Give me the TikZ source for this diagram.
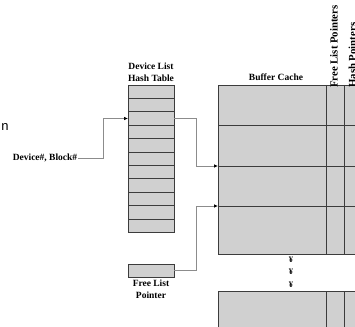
\documentclass[tikz,border=0pt]{standalone}
\usepackage{fontspec}
\setmainfont{Liberation Serif}
\newfontfamily\strayfont{Liberation Sans}
\usepackage{tikz}
\usetikzlibrary{arrows.meta, positioning}

\definecolor{cellfill}{HTML}{D0D0D0}
\definecolor{celledge}{HTML}{3C3C3C}
\definecolor{linkgray}{HTML}{8C8C8C}

\begin{document}
\begin{tikzpicture}[
  x=1pt, y=1pt,
  node distance=0pt,
  every node/.style={font=\bfseries\fontsize{9.5}{12}\selectfont},
  lbl/.style={align=center, inner sep=1pt},
  collbl/.style={lbl, rotate=90, anchor=west, font=\bfseries\fontsize{10.8}{12}\selectfont},
  cell/.style={draw=celledge, fill=cellfill, line width=0.9pt, inner sep=0pt, outer sep=0pt},
  hrow/.style={cell, minimum width=46pt, minimum height=13.4pt},
  brow/.style={cell, minimum width=144pt, anchor=north west},
  conn/.style={draw=linkgray, line width=0.7pt, -{Latex[length=4pt, width=3.5pt, black]}}
]
\useasboundingbox (0,0) rectangle (355,-326);
\clip (0,0) rectangle (355,-326);

% Device list hash table
\node[hrow] (h1) at (151,-91.7) {};
\node[hrow, below=of h1] (h2) {};
\node[hrow, below=of h2] (h3) {};
\node[hrow, below=of h3] (h4) {};
\node[hrow, below=of h4] (h5) {};
\node[hrow, below=of h5] (h6) {};
\node[hrow, below=of h6] (h7) {};
\node[hrow, below=of h7] (h8) {};
\node[hrow, below=of h8] (h9) {};
\node[hrow, below=of h9] (h10) {};
\node[hrow, below=of h10] (h11) {};
\node[lbl, above=2pt of h1] (hashlbl) {Device List\\Hash Table};

% Free list pointer
\node[hrow, minimum height=13pt] (flp) at (151,-270.5) {};
\node[lbl, below=2pt of flp] (flplbl) {Free List\\Pointer};

% Input
\node[lbl] (devblk) at (45,-158) {Device\#, Block\#};
\node[lbl, font=\strayfont\fontsize{13}{13}\selectfont] (stray) at (5,-127) {n};

% Buffer cache rows
\node[brow, minimum height=40pt] (buf1) at (218,-85) {};
\node[brow, minimum height=41pt, below=of buf1] (buf2) {};
\node[brow, minimum height=40pt, below=of buf2] (buf3) {};
\node[brow, minimum height=48pt, below=of buf3] (buf4) {};
\node[brow, minimum height=40pt] (buf5) at (218,-291) {};
\node[lbl] (buflbl) at (276,-77) {Buffer Cache};
\node[collbl] (fpLbl) at (334,-89) {Free List Pointers};
\node[collbl] (hpLbl) at (352.5,-89) {Hash Pointers};
\node[lbl, font=\bfseries\fontsize{8.5}{12.5}\selectfont] (gap) at (291,-272) {¥\\¥\\¥};

% Pointer columns
\draw[celledge, line width=0.9pt] ([xshift=108pt]buf1.north west) -- ([xshift=108pt]buf4.south west);
\draw[celledge, line width=0.9pt] ([xshift=126pt]buf1.north west) -- ([xshift=126pt]buf4.south west);
\draw[celledge, line width=0.9pt] ([xshift=108pt]buf5.north west) -- ([xshift=108pt]buf5.south west);
\draw[celledge, line width=0.9pt] ([xshift=126pt]buf5.north west) -- ([xshift=126pt]buf5.south west);

% Links
\draw[conn] (devblk.east) -- ++(25,0) |- (h3.west);
\draw[conn] (h3.east) -- ++(22,0) |- (buf3.north west);
\draw[conn] (flp.east) -- ++(22,0) |- (buf4.north west);

\end{tikzpicture}
\end{document}
